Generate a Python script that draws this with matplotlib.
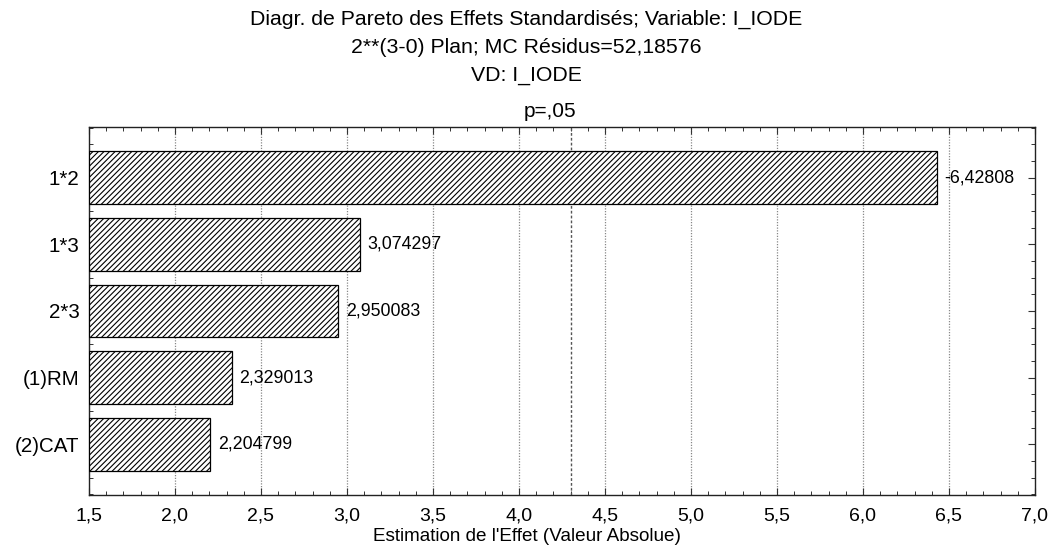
import matplotlib
matplotlib.use("Agg")
import matplotlib.pyplot as plt
from matplotlib.ticker import MultipleLocator, FuncFormatter

plt.rcParams['font.family'] = ['Liberation Sans', 'DejaVu Sans']
plt.rcParams['hatch.linewidth'] = 0.8

# data
effects = ['1*2', '1*3', '2*3', '(1)RM', '(2)CAT']
abs_values = [6.42808, 3.074297, 2.950083, 2.329013, 2.204799]
value_labels = ['-6,42808', '3,074297', '2,950083', '2,329013', '2,204799']
p_crit = 4.302653
x_ticks = [1.5, 2.0, 2.5, 3.0, 3.5, 4.0, 4.5, 5.0, 5.5, 6.0, 6.5, 7.0]

W, H = 1053, 560
fig = plt.figure(figsize=(W / 100, H / 100), dpi=100)
ax = fig.add_axes([89 / W, 1 - 495 / H, (1035 - 89) / W, (495 - 127) / H])

x0 = 1.5
pos = list(range(len(effects)))
widths = [v - x0 for v in abs_values]
ax.barh(pos, widths, left=x0, height=0.79, color='white', edgecolor='black',
        hatch='//////', linewidth=0.9, zorder=3)

for p, v, lab in zip(pos, abs_values, value_labels):
    ax.annotate(lab, (v, p), xytext=(5.5, 0), textcoords='offset points',
                ha='left', va='center', fontsize=12.8, zorder=4)

# grid + threshold line
for t in x_ticks[1:-1]:
    ax.axvline(t, color='#888888', linestyle=(0, (1, 1.2)), linewidth=0.9, zorder=1)
ax.axvline(p_crit, color='#555555', linestyle=(0, (2, 1.5)), linewidth=1.0, zorder=2)
ax.annotate('p=,05', (p_crit, 1), xycoords=('data', 'axes fraction'),
            xytext=(-15, 7), textcoords='offset points', ha='center', va='baseline',
            fontsize=15, annotation_clip=False)

ax.set_xlim(1.5, 7.0)
ax.set_ylim(4.76, -0.76)
ax.set_xticks(x_ticks)
ax.xaxis.set_major_formatter(FuncFormatter(lambda v, _: f"{v:.1f}".replace('.', ',')))
ax.xaxis.set_minor_locator(MultipleLocator(0.1))
ax.set_yticks(pos)
ax.set_yticklabels(effects)
ax.yaxis.set_minor_locator(MultipleLocator(0.25))
ax.tick_params(which='both', direction='in', top=True, right=True, labelsize=14, color='#333333')
ax.tick_params(axis='y', labelsize=14.8)
ax.tick_params(which='major', length=5, width=0.8)
ax.tick_params(axis='x', which='major', pad=9)
ax.tick_params(axis='y', which='major', pad=7)
ax.tick_params(which='minor', length=3, width=0.7)
for s in ax.spines.values():
    s.set_linewidth(1.0)
    s.set_color('#222222')

fig.text(0.5, 1 - 541 / H, "Estimation de l'Effet (Valeur Absolue)",
         ha='center', va='baseline', fontsize=13.6)

fig.text(0.5, 1 - 25 / H, "Diagr. de Pareto des Effets Standardisés; Variable: I_IODE",
         ha='center', va='baseline', fontsize=15.3)
fig.text(0.5, 1 - 53 / H, "2**(3-0) Plan; MC Résidus=52,18576", ha='center', va='baseline', fontsize=15.3)
fig.text(0.5, 1 - 81 / H, "VD: I_IODE", ha='center', va='baseline', fontsize=15.3)

fig.savefig('out.png', dpi=100)
